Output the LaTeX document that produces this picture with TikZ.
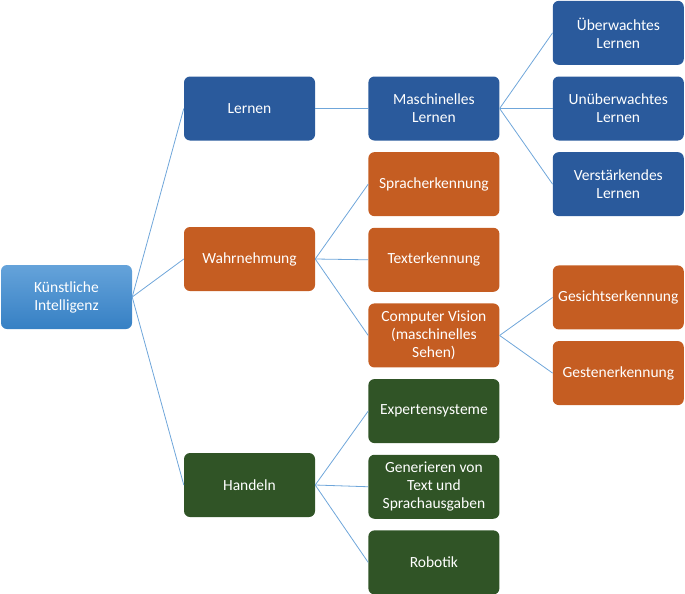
\documentclass[tikz,border=0pt]{standalone}
\usepackage{fontspec}
\setmainfont{Carlito}
\usepackage{tikz}
\usetikzlibrary{positioning}
\definecolor{kiblau}{HTML}{2A5A9C}
\definecolor{kiorange}{HTML}{C55D22}
\definecolor{kigruen}{HTML}{305426}
\definecolor{kihell}{HTML}{65A3DA}
\definecolor{kimittel}{HTML}{3680C4}
\definecolor{kilinie}{HTML}{6FA6DA}

\begin{document}
\begin{tikzpicture}[
        x=1pt, y=-1pt,
        box/.style={rectangle, rounded corners=6pt, minimum height=64pt, minimum width=131pt, inner sep=2pt, align=center, text=white, font=\fontsize{15.5}{18}\selectfont},
        bluebox/.style={box, fill=kiblau},
        orangebox/.style={box, fill=kiorange},
        greenbox/.style={box, fill=kigruen},
        link/.style={draw=kilinie, line width=0.8pt}
    ]
        \useasboundingbox (0,0) rectangle (685,594);

        % Wurzel
        \node[box, top color=kihell, bottom color=kimittel] (ki) at (66.5,297) {Künstliche\\Intelligenz};

        % Ebene 1
        \node[bluebox] (lernen) at (249.5,108.5) {Lernen};
        \node[orangebox] (wahrnehmung) at (249.5,259) {Wahrnehmung};
        \node[greenbox] (handeln) at (249.5,485) {Handeln};

        % Ebene 2
        \node[bluebox, right=53pt of lernen] (maschinell) {Maschinelles\\Lernen};
        \node[orangebox, below=11.25pt of maschinell] (sprache) {Spracherkennung};
        \node[orangebox, below=11.25pt of sprache] (text) {Texterkennung};
        \node[orangebox, below=11.25pt of text] (vision) {Computer Vision\\(maschinelles\\Sehen)};
        \node[greenbox, below=11.25pt of vision] (experten) {Expertensysteme};
        \node[greenbox, below=11.25pt of experten] (generieren) {Generieren von\\Text und\\Sprachausgaben};
        \node[greenbox, below=11.25pt of generieren] (robotik) {Robotik};

        % Ebene 3
        \node[bluebox, right=53pt of maschinell] (unueberwacht) {Unüberwachtes\\Lernen};
        \node[bluebox, above=11.25pt of unueberwacht] (ueberwacht) {Überwachtes\\Lernen};
        \node[bluebox, below=11.25pt of unueberwacht] (verstaerkend) {Verstärkendes\\Lernen};
        \node[orangebox, right=53pt of vision, yshift=38pt] (gesicht) {Gesichtserkennung};
        \node[orangebox, below=11.25pt of gesicht] (gesten) {Gestenerkennung};

        % Verbindungen
        \draw[link] (ki.east) -- (lernen.west);
        \draw[link] (ki.east) -- (wahrnehmung.west);
        \draw[link] (ki.east) -- (handeln.west);

        \draw[link] (lernen.east) -- (maschinell.west);
        \draw[link] (maschinell.east) -- (ueberwacht.west);
        \draw[link] (maschinell.east) -- (unueberwacht.west);
        \draw[link] (maschinell.east) -- (verstaerkend.west);

        \draw[link] (wahrnehmung.east) -- (sprache.west);
        \draw[link] (wahrnehmung.east) -- (text.west);
        \draw[link] (wahrnehmung.east) -- (vision.west);
        \draw[link] (vision.east) -- (gesicht.west);
        \draw[link] (vision.east) -- (gesten.west);

        \draw[link] (handeln.east) -- (experten.west);
        \draw[link] (handeln.east) -- (generieren.west);
        \draw[link] (handeln.east) -- (robotik.west);

    \end{tikzpicture}
\end{document}
